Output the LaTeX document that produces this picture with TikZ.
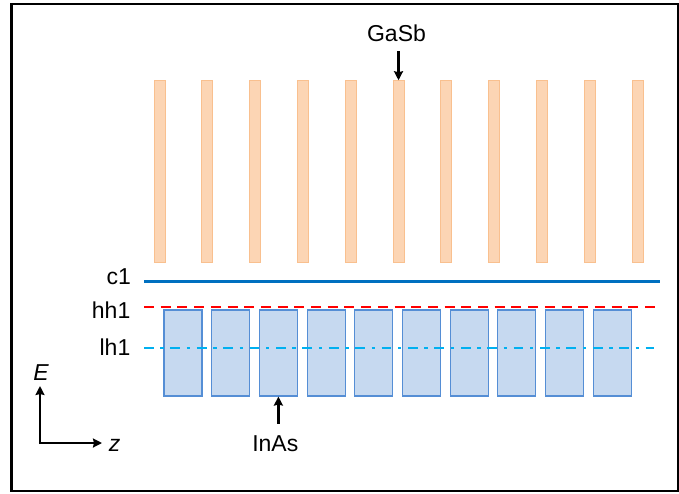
\documentclass[tikz,border=0pt]{standalone}
\usepackage{fontspec}
\setmainfont{Liberation Sans}
\usetikzlibrary{arrows.meta,calc}

\definecolor{gasbfill}{RGB}{252,213,180}
\definecolor{gasbedge}{RGB}{249,192,143}
\definecolor{inasfill}{RGB}{198,217,240}
\definecolor{inasedge}{RGB}{85,142,213}
\definecolor{cband}{RGB}{0,112,192}
\definecolor{hhband}{RGB}{255,0,0}
\definecolor{lhband}{RGB}{0,176,240}

\tikzset{
  gasbbar/.style={draw=gasbedge, fill=gasbfill, line width=0.9pt, inner sep=0pt,
    minimum width=11pt, minimum height=182pt},
  inaswell/.style={draw=inasedge, fill=inasfill, line width=1.1pt, inner sep=0pt,
    minimum width=38pt, minimum height=86pt},
  lbl/.style={inner sep=0pt, font=\fontsize{23}{27}\selectfont},
  ptr/.style={line width=2.2pt, -{Stealth[length=9pt,width=9pt,inset=1pt]}},
  axis/.style={line width=2.2pt, -{Stealth[length=9pt,width=9pt,inset=1pt]}},
}

\begin{document}
\begin{tikzpicture}[x=1pt, y=-1pt]
  \useasboundingbox (0,0) rectangle (679,493);
  \draw[line width=2.5pt] (11.3,4.2) rectangle (677.9,490.8);

  % GaSb barriers
  \foreach \i in {0,...,10}
    \node[gasbbar] (bar\i) at ({159.5+47.8*\i}, 171.7) {};

  % InAs wells
  \foreach \i in {0,...,9}
    \node[inaswell] (well\i) at ({183+47.7*\i}, 353) {};

  % subband levels
  \coordinate (cA) at (144,281.7);  \coordinate (cB) at (660,281.7);
  \coordinate (hA) at (144,307);    \coordinate (hB) at (656,307);
  \coordinate (lA) at (144,348);    \coordinate (lB) at (654,348);
  \draw[cband, line width=3.3pt] (cA) -- (cB);
  \draw[hhband, line width=2.3pt, dash pattern=on 10pt off 6.7pt] (hA) -- (hB);
  \draw[lhband, line width=2.3pt, dash pattern=on 9.7pt off 6.7pt on 3.3pt off 6.7pt] (lA) -- (lB);

  \node[lbl, anchor=base east] (c1) at (131,284.7) {c1};
  \node[lbl, anchor=base east] (hh1) at (130.5,318.3) {hh1};
  \node[lbl, anchor=base east] (lh1) at (130.5,355) {lh1};

  % material labels
  \node[lbl, anchor=base] (gasb) at (396.5,41.7) {GaSb};
  \draw[ptr] ($(bar5.north)+(0,-29)$) -- (bar5.north);
  \node[lbl, anchor=base] (inas) at (275.3,451.7) {InAs};
  \draw[ptr] ($(well2.south)+(0,27)$) -- (well2.south);

  % axes
  \coordinate (origin) at (40,443);
  \coordinate (etip) at (40,386);
  \coordinate (ztip) at (102,443);
  \draw[axis] ([yshift=-1.1pt]origin) -- (etip);
  \draw[axis] ([xshift=-1.1pt]origin) -- (ztip);
  \node[lbl, anchor=base] (E) at (41,380) {\itshape E};
  \node[lbl, anchor=base] (z) at (114.5,451.7) {\itshape z};
\end{tikzpicture}
\end{document}
